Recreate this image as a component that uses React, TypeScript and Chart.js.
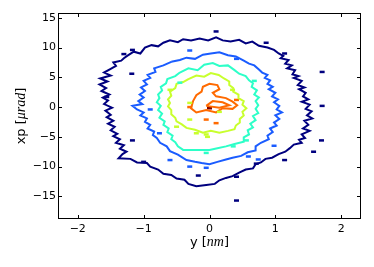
import React, { useEffect, useRef } from 'react';
import { Chart, registerables } from 'chart.js';

Chart.register(...registerables);

type P = [number, number];

const xTicks = [-2, -1, 0, 1, 2];
const yTicks = [-15, -10, -5, 0, 5, 10, 15];
const xRange = [-2.3, 2.3];
const yRange = [-18.8, 15.8];

const levelColors = ['#00007f', '#1a5cff', '#2dffc8', '#c8ff2d', '#ff6a00', '#7f0000'];

const navyContour: P[] = [
  [-1.25, 8.6], [-1.15, 9.3], [-1.05, 9.0], [-0.98, 10.0], [-0.88, 10.4], [-0.78, 10.2], [-0.7, 10.8], [-0.6, 11.2],
  [-0.48, 10.9], [-0.4, 11.4], [-0.28, 11.2], [-0.15, 11.5], [-0.02, 11.2], [0.1, 11.7], [0.2, 11.2], [0.32, 11.0],
  [0.45, 11.3], [0.55, 10.7], [0.65, 11.0], [0.75, 10.3], [0.88, 10.0], [0.98, 9.6],
  [1.05, 9.0], [1.12, 8.6], [1.08, 8.2], [1.2, 7.9], [1.15, 7.3], [1.25, 7.0], [1.18, 6.5], [1.3, 6.2],
  [1.26, 5.5], [1.35, 5.2], [1.28, 4.9], [1.4, 4.4], [1.34, 3.7], [1.44, 3.3], [1.36, 3.0], [1.46, 2.4],
  [1.42, 1.8], [1.5, 1.3], [1.4, 0.9], [1.52, 0.4], [1.46, -0.3], [1.55, -0.7], [1.48, -1.4], [1.56, -1.9],
  [1.44, -2.3], [1.5, -3.0], [1.42, -3.6], [1.52, -4.0], [1.4, -4.6], [1.45, -5.2], [1.36, -5.5], [1.4, -6.0],
  [1.28, -6.3],
  [1.22, -6.9], [1.15, -7.5], [1.05, -7.9], [0.95, -8.5], [0.85, -8.7], [0.78, -9.3], [0.7, -9.6], [0.66, -10.3],
  [0.55, -10.5], [0.45, -11.0], [0.35, -11.6], [0.25, -11.9], [0.15, -12.3], [0.08, -12.9], [-0.05, -13.1],
  [-0.2, -13.3], [-0.32, -12.9], [-0.38, -12.2], [-0.5, -12.0], [-0.58, -11.4], [-0.7, -11.2], [-0.78, -10.5],
  [-0.9, -10.0], [-0.95, -9.4], [-1.1, -9.3], [-1.2, -8.7], [-1.38, -8.6],
  [-1.32, -7.9], [-1.26, -7.5], [-1.36, -7.0], [-1.3, -6.4], [-1.42, -6.0], [-1.36, -5.4], [-1.46, -4.9],
  [-1.4, -4.5], [-1.5, -3.9], [-1.44, -3.3], [-1.54, -2.8], [-1.46, -2.3], [-1.56, -1.7], [-1.5, -1.3],
  [-1.58, -0.6], [-1.48, -0.1], [-1.6, 0.5], [-1.54, 1.1], [-1.62, 1.6], [-1.52, 2.1], [-1.64, 2.7],
  [-1.57, 3.2], [-1.67, 3.8], [-1.55, 4.3], [-1.66, 4.8], [-1.5, 5.3], [-1.6, 5.8], [-1.5, 6.4], [-1.42, 6.9],
  [-1.46, 7.5], [-1.34, 7.8], [-1.3, 8.2],
];

const blueContour: P[] = [
  [-0.58, 7.6], [-0.45, 7.9], [-0.35, 8.3], [-0.22, 8.1], [-0.1, 8.8], [0.02, 9.0], [0.15, 9.2], [0.28, 8.7],
  [0.4, 8.5], [0.52, 7.8], [0.6, 7.3], [0.68, 7.0], [0.75, 6.3],
  [0.8, 5.8], [0.88, 5.4], [0.84, 4.9], [0.92, 4.5], [0.88, 3.9], [0.96, 3.4], [0.9, 3.0], [1.0, 2.4],
  [0.95, 1.8], [1.04, 1.3], [0.98, 0.8], [1.06, 0.2], [1.02, -0.4], [1.1, -0.9], [1.0, -1.4], [1.06, -2.0],
  [0.98, -2.6], [1.02, -3.1], [0.92, -3.6], [0.96, -4.2], [0.88, -4.8], [0.9, -5.4], [0.78, -6.0],
  [0.7, -6.6], [0.7, -7.3], [0.58, -7.6], [0.48, -8.2], [0.35, -8.5], [0.25, -8.8], [0.12, -9.2], [0.0, -9.6],
  [-0.12, -9.4], [-0.22, -9.2], [-0.35, -8.9], [-0.48, -8.0], [-0.6, -7.4], [-0.65, -6.6], [-0.75, -6.0],
  [-0.8, -5.2], [-0.86, -4.7], [-0.84, -4.1], [-0.94, -3.6], [-0.9, -3.0], [-0.98, -2.5], [-0.95, -1.9],
  [-1.05, -1.4], [-1.0, -0.9], [-1.1, -0.4], [-1.17, 0.2], [-1.02, 0.5], [-1.08, 1.0], [-1.0, 1.6],
  [-1.06, 2.1], [-0.98, 2.7], [-1.04, 3.3], [-0.95, 3.8], [-1.0, 4.4], [-0.9, 4.9], [-0.94, 5.4], [-0.82, 5.9],
  [-0.84, 6.5], [-0.7, 7.0],
];

const cyanContour: P[] = [
  [-0.45, 5.8], [-0.32, 6.5], [-0.18, 6.2], [-0.08, 7.1], [0.05, 7.4], [0.15, 6.9], [0.28, 7.0], [0.38, 6.2],
  [0.45, 5.6], [0.55, 5.2], [0.6, 4.5], [0.66, 4.0], [0.64, 3.4], [0.72, 2.8], [0.68, 2.1], [0.75, 1.6],
  [0.7, 1.0], [0.74, 0.3], [0.7, -0.3], [0.74, -1.0], [0.66, -1.5], [0.7, -2.2], [0.62, -2.8], [0.66, -3.4],
  [0.58, -3.9], [0.6, -4.6], [0.52, -5.1], [0.52, -5.8], [0.38, -6.2], [0.25, -6.6], [0.12, -6.9], [0.0, -7.2],
  [-0.2, -7.2], [-0.4, -7.2], [-0.48, -6.6], [-0.52, -5.9], [-0.58, -5.4], [-0.56, -4.8], [-0.64, -4.2],
  [-0.62, -3.6], [-0.7, -3.0], [-0.68, -2.4], [-0.76, -1.8], [-0.72, -1.1], [-0.78, -0.5], [-0.74, 0.2],
  [-0.8, 0.8], [-0.76, 1.5], [-0.78, 2.1], [-0.72, 2.8], [-0.74, 3.4], [-0.66, 4.0], [-0.64, 4.7], [-0.52, 5.2],
];

const yellowContour: P[] = [
  [-0.32, 4.7], [-0.2, 5.3], [-0.08, 5.1], [0.02, 5.7], [0.14, 5.4], [0.22, 4.8], [0.3, 4.3], [0.3, 3.7],
  [0.36, 3.2], [0.36, 2.6], [0.44, 2.1], [0.44, 1.5], [0.52, 1.0], [0.5, 0.4], [0.56, -0.2], [0.5, -0.8],
  [0.52, -1.4], [0.46, -2.0], [0.46, -2.6], [0.4, -3.1], [0.38, -3.7], [0.28, -4.0], [0.15, -4.3], [0.02, -4.0],
  [-0.1, -4.3], [-0.22, -3.8], [-0.35, -3.5], [-0.42, -2.9], [-0.5, -2.4], [-0.52, -1.8], [-0.58, -1.2],
  [-0.58, -0.5], [-0.63, 0.1], [-0.6, 0.7], [-0.63, 1.3], [-0.58, 1.9], [-0.6, 2.6], [-0.52, 3.2],
  [-0.5, 3.9], [-0.4, 4.2],
];

const orangeContour: P[] = [
  [-0.25, 1.0], [-0.2, 2.0], [-0.12, 2.6], [-0.1, 3.4], [0.0, 3.9], [0.12, 3.7], [0.15, 3.0], [0.05, 2.4],
  [0.1, 1.8], [0.25, 1.5], [0.35, 0.9], [0.42, 0.3], [0.35, -0.3], [0.2, -0.2], [0.1, -0.9], [-0.05, -0.5],
  [-0.2, -0.9], [-0.28, -0.2],
];

const orangeInner: P[] = [
  [-0.05, 0.2], [0.05, 1.0], [0.2, 0.8], [0.3, 0.3], [0.15, -0.1],
];

const navyDots: P[] = [
  [0.1, 12.7], [0.86, 10.8], [1.14, 9.0], [1.71, 5.9], [1.71, 0.2], [1.7, -5.6], [1.58, -7.5], [1.14, -8.9],
  [0.71, -9.5], [0.41, -11.7], [0.41, -15.7], [-0.17, -11.5], [-1.17, 9.6], [-1.3, 8.9], [-1.18, 5.6],
  [-1.56, 1.7], [-1.0, -9.2], [-1.17, -5.6],
];
const blueDots: P[] = [
  [0.41, 8.1], [-0.3, 9.5], [0.98, -6.5], [0.59, -8.3], [0.74, -8.8], [-0.76, -4.4], [-0.6, -8.9],
  [-0.3, -10.0], [-0.05, -10.2], [-0.9, -0.4],
];
const cyanDots: P[] = [[0.56, -5.6], [0.36, -6.6], [0.68, 4.4], [-0.45, 4.1], [-0.05, -7.7]];
const yellowDots: P[] = [
  [-0.5, -3.3], [-0.2, -4.4], [-0.03, -5.0], [-0.3, -2.1], [-0.3, 0.7], [-0.6, 2.9], [0.15, -0.8],
  [-0.05, -4.6], [0.35, 2.9],
];
const orangeDots: P[] = [[-0.3, 0.0], [-0.05, -2.1], [0.1, -2.7], [0.41, 1.2]];
const redDots: P[] = [[0.0, -0.2]];

const fmt = (v: number) => (v < 0 ? '\u2212' + Math.abs(v) : String(v));

const closed = (pts: P[]) => [...pts, pts[0]].map(([x, y]) => ({ x, y }));
const asPts = (pts: P[]) => pts.map(([x, y]) => ({ x, y }));

function drawMixed(ctx: CanvasRenderingContext2D, parts: { t: string; f: string }[], cx: number, by: number) {
  let total = 0;
  parts.forEach((p) => {
    ctx.font = p.f;
    total += ctx.measureText(p.t).width;
  });
  let x = cx - total / 2;
  ctx.textAlign = 'left';
  ctx.textBaseline = 'alphabetic';
  parts.forEach((p) => {
    ctx.font = p.f;
    ctx.fillText(p.t, x, by);
    x += ctx.measureText(p.t).width;
  });
}

const framePlugin = {
  id: 'frame',
  afterDraw(chart: any) {
    const { ctx, chartArea: a, scales } = chart;
    ctx.save();
    ctx.strokeStyle = '#000';
    ctx.lineWidth = 1;
    ctx.strokeRect(a.left + 0.5, a.top + 0.5, a.right - a.left - 1, a.bottom - a.top - 1);
    ctx.beginPath();
    xTicks.forEach((v) => {
      const px = Math.round(scales.x.getPixelForValue(v)) + 0.5;
      ctx.moveTo(px, a.bottom);
      ctx.lineTo(px, a.bottom - 4);
      ctx.moveTo(px, a.top);
      ctx.lineTo(px, a.top + 4);
    });
    yTicks.forEach((v) => {
      const py = Math.round(scales.y.getPixelForValue(v)) + 0.5;
      ctx.moveTo(a.left, py);
      ctx.lineTo(a.left + 4, py);
      ctx.moveTo(a.right, py);
      ctx.lineTo(a.right - 4, py);
    });
    ctx.stroke();
    ctx.fillStyle = '#000';
    const sans = "13px 'DejaVu Sans'";
    const ital = "italic 14px 'Liberation Serif'";
    drawMixed(ctx, [{ t: 'y [', f: sans }, { t: 'nm', f: ital }, { t: ']', f: sans }], (a.left + a.right) / 2, 246);
    ctx.translate(25, (a.top + a.bottom) / 2);
    ctx.rotate(-Math.PI / 2);
    drawMixed(ctx, [{ t: 'xp [', f: sans }, { t: '\u03bcrad', f: ital }, { t: ']', f: sans }], 0, 0);
    ctx.restore();
  },
};

export default function App() {
  const ref = useRef<HTMLCanvasElement | null>(null);
  useEffect(() => {
    if (!ref.current) return;
    const lineDs = (pts: P[], color: string) => ({
      data: closed(pts),
      showLine: true,
      borderColor: color,
      backgroundColor: color,
      borderWidth: 2,
      pointRadius: 0,
      tension: 0,
      fill: false,
    });
    const dotDs = (pts: P[], color: string) => ({
      data: asPts(pts),
      showLine: false,
      borderColor: color,
      backgroundColor: color,
      pointStyle: 'line',
      pointRadius: 2.5,
      borderWidth: 2.5,
    });
    const chart = new Chart(ref.current, {
      type: 'scatter',
      data: {
        datasets: [
          lineDs(navyContour, levelColors[0]),
          dotDs(navyDots, levelColors[0]),
          lineDs(blueContour, levelColors[1]),
          dotDs(blueDots, levelColors[1]),
          lineDs(cyanContour, levelColors[2]),
          dotDs(cyanDots, levelColors[2]),
          lineDs(yellowContour, levelColors[3]),
          dotDs(yellowDots, levelColors[3]),
          lineDs(orangeContour, levelColors[4]),
          lineDs(orangeInner, levelColors[4]),
          dotDs(orangeDots, levelColors[4]),
          dotDs(redDots, levelColors[5]),
        ] as any,
      },
      options: {
        animation: false,
        responsive: false,
        layout: { padding: { top: 13, right: 13, left: 0, bottom: 0 } },
        plugins: { legend: { display: false }, tooltip: { enabled: false } },
        scales: {
          x: {
            type: 'linear',
            min: xRange[0],
            max: xRange[1],
            afterBuildTicks: (s: any) => {
              s.ticks = xTicks.map((v) => ({ value: v }));
            },
            afterFit: (s: any) => {
              s.height = 48;
            },
            grid: { display: false, drawTicks: false },
            border: { display: false },
            ticks: {
              callback: (v: any) => fmt(Number(v)),
              color: '#000',
              font: { family: "'DejaVu Sans'", size: 11 },
              padding: 4,
              maxRotation: 0,
            },
          },
          y: {
            type: 'linear',
            min: yRange[0],
            max: yRange[1],
            afterBuildTicks: (s: any) => {
              s.ticks = yTicks.map((v) => ({ value: v }));
            },
            afterFit: (s: any) => {
              s.width = 58;
            },
            grid: { display: false, drawTicks: false },
            border: { display: false },
            ticks: {
              callback: (v: any) => fmt(Number(v)),
              color: '#000',
              font: { family: "'DejaVu Sans'", size: 11 },
              padding: 2,
            },
          },
        },
      },
      plugins: [framePlugin],
    });
    return () => chart.destroy();
  }, []);
  return (
    <div style={{ position: 'absolute', left: 0, top: 0, width: 374, height: 267, background: '#fff' }}>
      <canvas ref={ref} width={374} height={267} />
    </div>
  );
}
